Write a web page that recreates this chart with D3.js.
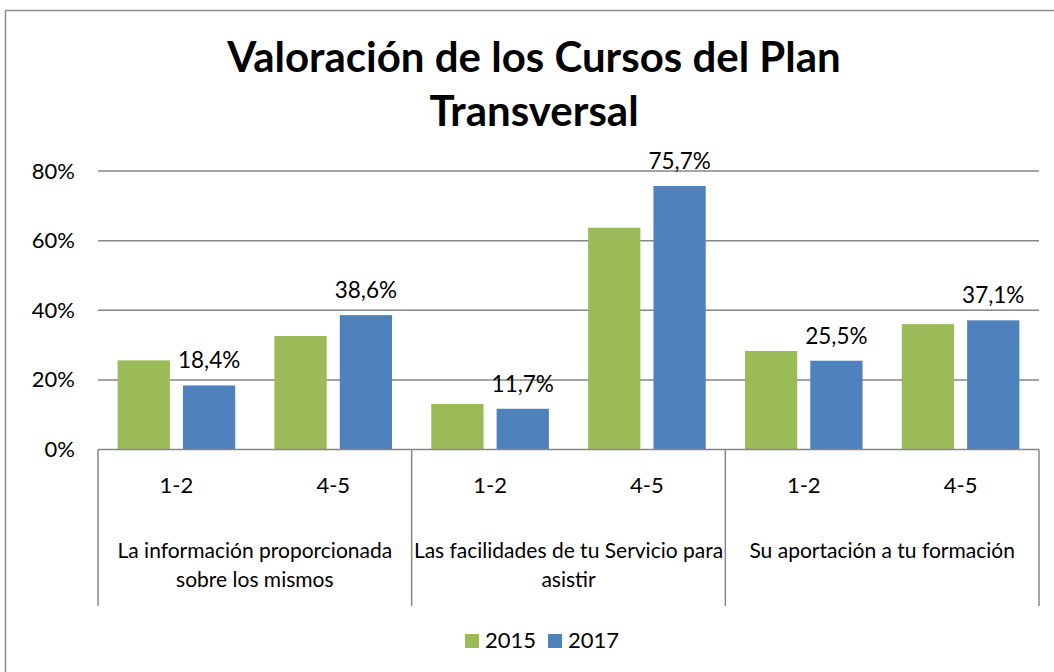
<!DOCTYPE html>
<html>
<head>
<meta charset="utf-8">
<script src="https://cdn.jsdelivr.net/npm/d3@7"></script>
<style>
  html, body { margin: 0; padding: 0; background: #fff; }
  svg { display: block; }
  text { font-family: Lato, "Noto Sans", sans-serif; fill: #000; }
</style>
</head>
<body>
<svg id="chart" width="1054" height="672"></svg>
<script>
// ---- data ----
const titleLines = ["Valoración de los Cursos del Plan", "Transversal"];
const groups = ["La información proporcionada sobre los mismos", "Las facilidades de tu Servicio para asistir", "Su aportación a tu formación"];
const groupLabelLines = [["La información proporcionada", "sobre los mismos"], ["Las facilidades de tu Servicio para", "asistir"], ["Su aportación a tu formación"]];
const ratings = ["1-2", "4-5"];
const seriesNames = ["2015", "2017"];
const values2015 = [0.256, 0.326, 0.131, 0.637, 0.283, 0.360];
const values2017 = [0.184, 0.386, 0.117, 0.757, 0.255, 0.371];
const yTicks = [0, 0.2, 0.4, 0.6, 0.8];
const colors = ["#9BBB59", "#4F81BD"];

// ---- layout ----
const W = 1054, H = 672;
const plot = { left: 98, right: 1039, top: 171, bottom: 449.5 };
const svg = d3.select("#chart");
svg.append("rect").attr("width", W).attr("height", H).attr("fill", "#fff");
svg.append("rect").attr("x", 5.5).attr("y", 10.5).attr("width", 1100).attr("height", 800)
  .attr("fill", "none").attr("stroke", "#8c8c8c").attr("stroke-width", 1.5);

// title
svg.append("text").attr("x", 534).attr("text-anchor", "middle")
  .style("font-weight", "bold").style("font-size", "42px")
  .selectAll("tspan").data(titleLines).join("tspan")
  .attr("x", 534).attr("y", (d, i) => 72 + i * 54).text(d => d);

// categories
const cats = [];
groups.forEach((g, gi) => ratings.forEach((r, ri) => cats.push({ key: gi + "|" + r, group: gi, rating: r, idx: gi * 2 + ri })));

const x0 = d3.scaleBand().domain(cats.map(c => c.key)).range([plot.left, plot.right]).paddingInner(0.25).paddingOuter(0.125);
const x1 = d3.scaleBand().domain(seriesNames).range([0, x0.bandwidth()]).paddingInner(0.2);
const y = d3.scaleLinear().domain([0, 0.8]).range([plot.bottom, plot.top]);
const gx = d3.scaleBand().domain(groups).range([plot.left, plot.right]);

// grid + y labels
const yAxis = d3.axisLeft(y).tickValues(yTicks).tickSize(0).tickPadding(23)
  .tickFormat(d => Math.round(d * 100) + "%");
const ya = svg.append("g").attr("transform", `translate(${plot.left},0)`).call(yAxis);
ya.select(".domain").remove();
ya.selectAll("text").style("font-size", "22px").style("font-family", "Lato, sans-serif").attr("fill", "#000");

svg.append("g").selectAll("line").data(yTicks.filter(d => d > 0)).join("line")
  .attr("x1", plot.left).attr("x2", plot.right)
  .attr("y1", d => y(d)).attr("y2", d => y(d))
  .attr("stroke", "#868686").attr("stroke-width", 1.5);

// bars
const series = [values2015, values2017];
const barG = svg.append("g");
series.forEach((vals, si) => {
  barG.selectAll(".s" + si).data(cats).join("rect")
    .attr("class", "s" + si)
    .attr("x", c => x0(c.key) + x1(seriesNames[si]))
    .attr("width", x1.bandwidth())
    .attr("y", c => y(vals[c.idx]))
    .attr("height", c => y(0) - y(vals[c.idx]))
    .attr("fill", colors[si]);
});

// data labels on 2017
svg.append("g").selectAll("text").data(cats).join("text")
  .attr("x", c => x0(c.key) + x1("2017") + x1.bandwidth() / 2)
  .attr("y", c => y(values2017[c.idx]) - 17)
  .attr("text-anchor", "middle").style("font-size", "22.5px")
  .text(c => (values2017[c.idx] * 100).toFixed(1).replace(".", ",") + "%");

// x axis line and separators
svg.append("line").attr("x1", plot.left).attr("x2", plot.right).attr("y1", y(0)).attr("y2", y(0))
  .attr("stroke", "#868686").attr("stroke-width", 1.5);
const seps = groups.map(g => gx(g)).concat([plot.right]);
svg.append("g").selectAll("line").data(seps).join("line")
  .attr("x1", d => d).attr("x2", d => d).attr("y1", y(0)).attr("y2", 606)
  .attr("stroke", "#868686").attr("stroke-width", 1.5);

// rating labels
svg.append("g").selectAll("text").data(cats).join("text")
  .attr("x", c => x0(c.key) + x0.bandwidth() / 2).attr("y", 493)
  .attr("text-anchor", "middle").style("font-size", "22px").text(c => c.rating);

// group labels
svg.append("g").selectAll("text").data(groups).join("text")
  .attr("text-anchor", "middle").style("font-size", "21px")
  .each(function (g, gi) {
    d3.select(this).selectAll("tspan").data(groupLabelLines[gi]).join("tspan")
      .attr("x", gx(g) + gx.bandwidth() / 2).attr("y", (d, i) => 558 + i * 29).text(d => d);
  });

// legend
const legX = [465, 548];
const lg = svg.append("g").selectAll("g").data(seriesNames).join("g")
  .attr("transform", (d, i) => `translate(${legX[i]},634)`);
lg.append("rect").attr("width", 14).attr("height", 14).attr("fill", (d, i) => colors[i]);
lg.append("text").attr("x", 20).attr("y", 14).style("font-size", "22px").text(d => d);
</script>
</body>
</html>
